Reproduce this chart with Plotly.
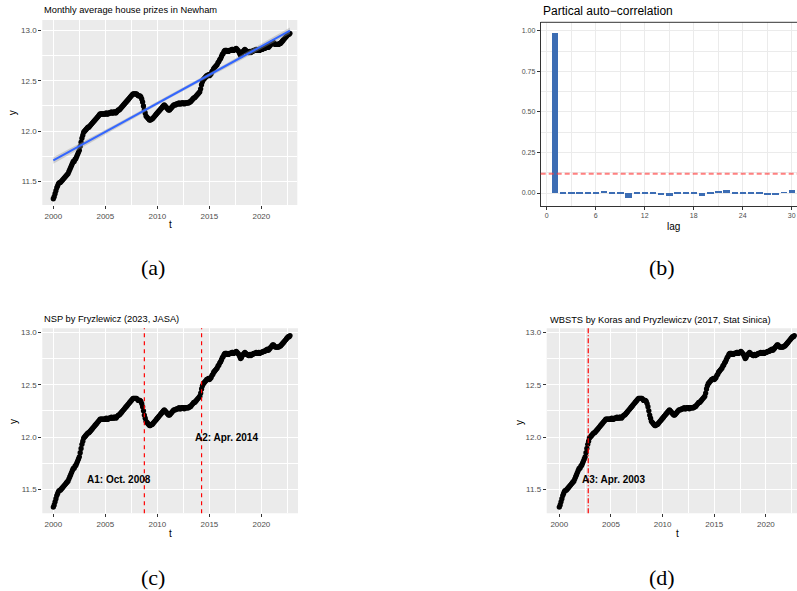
import numpy as np
import plotly.graph_objects as go

# ---------------- data ----------------
start_year = 2000
log_price = [
    11.33, 11.35, 11.38, 11.41, 11.44, 11.46, 11.48, 11.49, 11.49, 11.50, 11.51, 11.52,  # 2000
    11.53, 11.54, 11.55, 11.56, 11.57, 11.58, 11.60, 11.62, 11.64, 11.66, 11.68, 11.70,  # 2001
    11.70, 11.72, 11.73, 11.75, 11.77, 11.79, 11.81, 11.85, 11.89, 11.93, 11.96, 11.99,  # 2002
    12.00, 12.01, 12.02, 12.03, 12.04, 12.04, 12.05, 12.06, 12.07, 12.08, 12.09, 12.10,  # 2003
    12.11, 12.12, 12.13, 12.14, 12.15, 12.16, 12.17, 12.17, 12.17, 12.17, 12.17, 12.17,  # 2004
    12.17, 12.18, 12.17, 12.17, 12.18, 12.18, 12.18, 12.19, 12.18, 12.18, 12.19, 12.19,  # 2005
    12.18, 12.19, 12.20, 12.21, 12.21, 12.22, 12.23, 12.24, 12.25, 12.26, 12.27, 12.28,  # 2006
    12.29, 12.30, 12.31, 12.32, 12.33, 12.34, 12.35, 12.36, 12.37, 12.37, 12.37, 12.37,  # 2007
    12.37, 12.36, 12.35, 12.35, 12.35, 12.34, 12.32, 12.29, 12.25, 12.21, 12.18, 12.15,  # 2008
    12.14, 12.13, 12.12, 12.11, 12.11, 12.12, 12.12, 12.13, 12.14, 12.15, 12.16, 12.17,  # 2009
    12.18, 12.19, 12.20, 12.21, 12.22, 12.23, 12.24, 12.25, 12.26, 12.25, 12.24, 12.23,  # 2010
    12.22, 12.21, 12.21, 12.22, 12.23, 12.24, 12.25, 12.26, 12.26, 12.26, 12.27, 12.27,  # 2011
    12.27, 12.28, 12.27, 12.27, 12.28, 12.28, 12.28, 12.27, 12.28, 12.28, 12.28, 12.28,  # 2012
    12.28, 12.29, 12.29, 12.30, 12.31, 12.32, 12.33, 12.33, 12.34, 12.35, 12.36, 12.37,  # 2013
    12.38, 12.39, 12.42, 12.46, 12.49, 12.51, 12.52, 12.53, 12.54, 12.55, 12.55, 12.56,  # 2014
    12.55, 12.56, 12.57, 12.59, 12.60, 12.62, 12.63, 12.64, 12.65, 12.66, 12.68, 12.69,  # 2015
    12.71, 12.72, 12.74, 12.76, 12.77, 12.79, 12.80, 12.80, 12.80, 12.79, 12.79, 12.80,  # 2016
    12.80, 12.80, 12.81, 12.81, 12.80, 12.81, 12.81, 12.82, 12.81, 12.80, 12.79, 12.77,  # 2017
    12.75, 12.76, 12.78, 12.79, 12.80, 12.81, 12.80, 12.79, 12.79, 12.78, 12.78, 12.79,  # 2018
    12.78, 12.79, 12.79, 12.80, 12.80, 12.80, 12.81, 12.80, 12.80, 12.81, 12.80, 12.81,  # 2019
    12.81, 12.81, 12.82, 12.82, 12.82, 12.83, 12.83, 12.84, 12.83, 12.84, 12.85, 12.86,  # 2020
    12.87, 12.88, 12.88, 12.87, 12.86, 12.86, 12.86, 12.86, 12.86, 12.87, 12.87, 12.88,  # 2021
    12.89, 12.90, 12.91, 12.92, 12.93, 12.94, 12.95, 12.96, 12.96, 12.97,                # 2022
]
t = [start_year + i / 12 for i in range(len(log_price))]

pacf_lags = list(range(1, 31))
pacf_vals = [0.985, -0.010, -0.010, -0.004, -0.004, -0.010, 0.005, -0.010, -0.010, -0.034,
             -0.003, -0.003, -0.003, -0.015, -0.021, -0.005, -0.010, -0.005, -0.022, -0.005,
             0.008, 0.018, -0.003, -0.003, -0.003, -0.003, -0.015, -0.015, 0.003, 0.015]
pacf_bound = 0.118

nsp_cpts = [2008.75, 2014.25]
nsp_labels = ["A1: Oct. 2008", "A2: Apr. 2014"]
wbs_cpts = [2002.8]
wbs_labels = ["A3: Apr. 2003"]

titles = ["Monthly average house prizes in Newham", "Partical auto\u2212correlation",
          "NSP by Fryzlewicz (2023, JASA)", "WBSTS by Koras and Pryzlewiczv (2017, Stat Sinica)"]
captions = ["(a)", "(b)", "(c)", "(d)"]

# ---------------- helpers ----------------
W, H = 797, 591
SANS = "Liberation Sans, Arial, sans-serif"
SERIF = "Liberation Serif, Times New Roman, serif"
def fx(px): return px / W
def fy(py): return 1 - py / H

tarr = np.array(t); yarr = np.array(log_price)
b, a = np.polyfit(tarr, yarr, 1)
fit = a + b * tarr
n = len(tarr)
s = np.sqrt(np.sum((yarr - fit) ** 2) / (n - 2))
se = s * np.sqrt(1 / n + (tarr - tarr.mean()) ** 2 / np.sum((tarr - tarr.mean()) ** 2))
upper = fit + 1.969 * se
lower = fit - 1.969 * se

fig = go.Figure()

# panel a
fig.add_trace(go.Scatter(x=t, y=log_price, mode="markers", marker=dict(color="black", size=5.3),
                         xaxis="x", yaxis="y", showlegend=False))
fig.add_trace(go.Scatter(x=np.concatenate([tarr, tarr[::-1]]), y=np.concatenate([upper, lower[::-1]]),
                         fill="toself", fillcolor="rgba(153,153,153,0.4)", line=dict(width=0),
                         mode="lines", xaxis="x", yaxis="y", showlegend=False))
fig.add_trace(go.Scatter(x=tarr, y=fit, mode="lines", line=dict(color="#3366FF", width=2),
                         xaxis="x", yaxis="y", showlegend=False))
# panel b
fig.add_trace(go.Bar(x=pacf_lags, y=pacf_vals, width=0.78, marker=dict(color="#3C6DB4", line=dict(width=0)),
                     xaxis="x2", yaxis="y2", showlegend=False))
# panel c, d
fig.add_trace(go.Scatter(x=t, y=log_price, mode="markers", marker=dict(color="black", size=5.3),
                         xaxis="x3", yaxis="y3", showlegend=False))
fig.add_trace(go.Scatter(x=t, y=log_price, mode="markers", marker=dict(color="black", size=5.3),
                         xaxis="x4", yaxis="y4", showlegend=False))

tickfont = dict(family=SANS, size=8, color="#4D4D4D")
def grey_x(dom, rng, anchor):
    return dict(domain=dom, range=rng, anchor=anchor, tick0=2000, dtick=5, ticks="outside", ticklen=3,
                tickcolor="#333333", tickwidth=1, showgrid=True, gridcolor="white", gridwidth=1.1,
                minor=dict(tick0=2000, dtick=2.5, showgrid=True, gridcolor="white", gridwidth=0.5, ticks=""),
                zeroline=False, showline=False, tickfont=tickfont)
def grey_y(dom, rng, anchor):
    return dict(domain=dom, range=rng, anchor=anchor, tick0=11.5, dtick=0.5, tickformat=".1f", ticks="outside",
                ticklen=3, tickcolor="#333333", tickwidth=1, showgrid=True, gridcolor="white", gridwidth=1.1,
                minor=dict(tick0=11.5, dtick=0.25, showgrid=True, gridcolor="white", gridwidth=0.5, ticks=""),
                zeroline=False, showline=False, tickfont=tickfont)

dom_a = ([fx(42.3), fx(297.3)], [fy(205), fy(20)])
dom_b = ([fx(540.7), 1.0], [fy(206), fy(22.3)])
dom_c = ([fx(42.3), fx(298)], [fy(513.3), fy(328.3)])
dom_d = ([fx(546.7), 1.0], [fy(513.3), fy(328.3)])

fig.update_layout(
    width=W, height=H, margin=dict(l=0, r=0, t=0, b=0),
    paper_bgcolor="white", plot_bgcolor="white", bargap=0,
    xaxis=grey_x(dom_a[0], [1998.94, 2023.46], "y"),
    yaxis=grey_y(dom_a[1], [11.268, 13.102], "x"),
    xaxis3=grey_x(dom_c[0], [1998.94, 2023.52], "y3"),
    yaxis3=grey_y(dom_c[1], [11.27, 13.04], "x3"),
    xaxis4=grey_x(dom_d[0], [1998.78, 2023.01], "y4"),
    yaxis4=grey_y(dom_d[1], [11.27, 13.04], "x4"),
    xaxis2=dict(domain=dom_b[0], range=[-0.73, 30.65], anchor="y2", tick0=0, dtick=6, ticks="outside",
                ticklen=3, tickcolor="#333333", showgrid=True, gridcolor="#EBEBEB", gridwidth=1,
                minor=dict(tick0=0, dtick=3, showgrid=True, gridcolor="#EBEBEB", gridwidth=0.5, ticks=""),
                zeroline=False, showline=True, linecolor="#333333", linewidth=1,
                tickfont=dict(family=SANS, size=7, color="#4D4D4D")),
    yaxis2=dict(domain=dom_b[1], range=[-0.08, 1.052], anchor="x2", tick0=0, dtick=0.25, tickformat=".2f",
                ticks="outside", ticklen=3, tickcolor="#333333", showgrid=True, gridcolor="#EBEBEB", gridwidth=1,
                minor=dict(tick0=0, dtick=0.125, showgrid=True, gridcolor="#EBEBEB", gridwidth=0.5, ticks=""),
                zeroline=False, showline=True, linecolor="#333333", linewidth=1,
                tickfont=dict(family=SANS, size=7, color="#4D4D4D")),
)

shapes = []
for xa, ya in [("x", "y"), ("x3", "y3"), ("x4", "y4")]:
    shapes.append(dict(type="rect", xref=f"{xa} domain", yref=f"{ya} domain", x0=0, x1=1, y0=0, y1=1,
                       fillcolor="#EBEBEB", line=dict(width=0), layer="below"))
# top border of panel b
shapes.append(dict(type="line", xref="x2 domain", yref="y2 domain", x0=0, x1=1, y0=1, y1=1,
                   line=dict(color="#333333", width=1)))
shapes.append(dict(type="line", xref="x2 domain", yref="y2", x0=0, x1=1, y0=pacf_bound, y1=pacf_bound,
                   line=dict(color="rgba(255,60,60,0.65)", width=2, dash="5px,3px")))
for cp in nsp_cpts:
    shapes.append(dict(type="line", xref="x3", yref="y3 domain", x0=cp, x1=cp, y0=0, y1=1,
                       line=dict(color="red", width=1.2, dash="4px,4px")))
for cp in wbs_cpts:
    shapes.append(dict(type="line", xref="x4", yref="y4 domain", x0=cp, x1=cp, y0=0, y1=1,
                       line=dict(color="red", width=1.2, dash="5px,2px,1px,2px")))
fig.update_layout(shapes=shapes)

ann = []
# titles
for txt, x, y, size in [(titles[0], 42.3, 10, 9.3), (titles[1], 540.7, 11, 12),
                        (titles[2], 42.3, 319, 9.3), (titles[3], 547.5, 320, 9.3)]:
    ann.append(dict(text=txt, x=fx(x), y=fy(y), xref="paper", yref="paper", xanchor="left", yanchor="middle",
                    showarrow=False, font=dict(family=SANS, size=size, color="black")))
# axis titles
for txt, x, y, rot in [("y", 13.3, 113, -90), ("t", 170, 225, 0), ("lag", 673, 226, 0),
                       ("y", 13.3, 421.7, -90), ("t", 170, 533.5, 0),
                       ("y", 519.3, 422.7, -90), ("t", 677, 533.5, 0)]:
    ann.append(dict(text=txt, x=fx(x), y=fy(y), xref="paper", yref="paper", xanchor="center", yanchor="middle",
                    textangle=rot, showarrow=False, font=dict(family=SANS, size=10, color="black")))
# change point labels
for txt, x, y in [(nsp_labels[0], 2006.3, 11.59), (nsp_labels[1], 2016.6, 12.0)]:
    ann.append(dict(text=f"<b>{txt}</b>", x=x, y=y, xref="x3", yref="y3", showarrow=False,
                    font=dict(family=SANS, size=10, color="black")))
ann.append(dict(text=f"<b>{wbs_labels[0]}</b>", x=2005.2, y=11.59, xref="x4", yref="y4", showarrow=False,
                font=dict(family=SANS, size=10, color="black")))
# captions
for txt, x, y in [(captions[0], 153, 267), (captions[1], 662, 267), (captions[2], 153, 577), (captions[3], 662, 577)]:
    ann.append(dict(text=txt, x=fx(x), y=fy(y), xref="paper", yref="paper", xanchor="center", yanchor="middle",
                    showarrow=False, font=dict(family=SERIF, size=22, color="black")))
fig.update_layout(annotations=ann)

fig.write_html("out.html", config={"displayModeBar": False},
               post_script="document.body.style.margin='0';document.body.style.overflow='hidden';")
